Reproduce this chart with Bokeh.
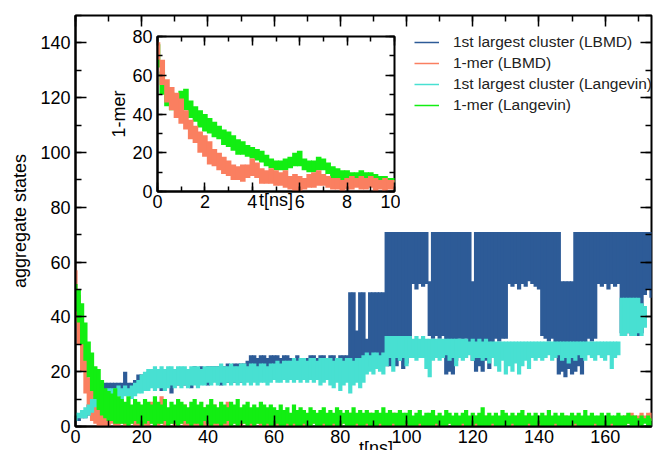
from bokeh.plotting import figure
from bokeh.models import (Range1d, LinearAxis, SingleIntervalTicker, Legend,
                          LegendItem, ColumnDataSource, CustomLabelingPolicy, Div)
from bokeh.layouts import column
from bokeh.embed import file_html
from bokeh.resources import INLINE

FONT = "Liberation Sans"
C_BLUE = "#2d5b97"
C_SALMON = "#fa7f60"
C_CYAN = "#48e0d2"
C_GREEN = "#12ee12"

# ---------------- main plot data (1 ns bins, low / high of the noisy trace) ----------------
lbmd_cluster_lo = [
    2, 2, 3, 3, 4, 6, 8, 12, 13, 13,
    12, 13, 13, 12, 13, 13, 13, 13, 12, 14,
    13, 15, 14, 15, 14, 15, 13, 15, 16, 12,
    16, 15, 16, 15, 16, 14, 16, 15, 16, 16,
    15, 16, 17, 16, 15, 17, 16, 17, 16, 17,
    16, 17, 17, 18, 19, 18, 19, 18, 19, 17,
    19, 18, 19, 19, 18, 19, 18, 19, 18, 19,
    18, 19, 18, 19, 18, 19, 18, 18, 17, 18,
    17, 18, 18, 20, 22, 24, 22, 21, 24, 22,
    23, 21, 22, 24, 22, 22, 23, 22, 24, 21,
    23, 28, 52, 50, 52, 51, 52, 33, 32, 33,
    32, 33, 19, 20, 19, 24, 32, 31, 32, 30,
    24, 20, 22, 20, 24, 21, 26, 32, 31, 32,
    32, 52, 51, 52, 50, 52, 51, 53, 52, 51,
    50, 33, 32, 31, 32, 28, 19, 20, 18, 21,
    19, 20, 22, 19, 30, 32, 31, 32, 52, 51,
    52, 50, 52, 51, 52, 34, 33, 34, 33, 34,
    33, 34, 48, 50, 47]
lbmd_cluster_hi = [
    4, 4, 4, 6, 8, 10, 13, 16, 16, 16,
    16, 16, 16, 16, 16, 20, 16, 16, 17, 19,
    19, 19, 20, 19, 20, 21, 21, 20, 21, 21,
    21, 20, 21, 21, 21, 21, 22, 21, 22, 21,
    22, 22, 22, 22, 22, 22, 23, 22, 23, 23,
    23, 23, 24, 26, 26, 25, 26, 26, 25, 26,
    26, 26, 25, 26, 26, 25, 24, 26, 25, 24,
    25, 26, 26, 25, 26, 26, 25, 26, 26, 25,
    26, 26, 26, 49, 49, 35, 49, 49, 32, 49,
    49, 49, 49, 49, 71, 71, 71, 71, 71, 71,
    71, 71, 71, 71, 71, 71, 71, 53, 71, 71,
    71, 71, 71, 71, 71, 71, 71, 71, 71, 71,
    53, 71, 71, 71, 71, 71, 71, 71, 71, 71,
    71, 71, 71, 71, 71, 71, 71, 71, 71, 71,
    71, 71, 71, 71, 71, 71, 71, 53, 53, 53,
    53, 71, 71, 71, 71, 71, 71, 71, 71, 71,
    71, 71, 71, 71, 71, 71, 71, 71, 71, 71,
    71, 71, 71, 71, 71]

lbmd_mer_lo = [
    38, 30, 20, 12, 6, 2, 1, 0, 0, 0,
    0, 1, 0, 0, 1, 0, 0, 1, 0, 0,
    1, 0, 0, 1, 0, 0, 1, 0, 0, 1,
    0, 0, 1, 0, 0, 1, 0, 0, 1, 0,
    0, 1, 0, 0, 1, 0, 0, 0, 1, 0,
    0, 1, 0, 0, 0, 1, 0, 0, 0, 1,
    0, 0, 0, 1, 0, 0, 0, 0, 1, 0,
    0, 0, 1, 0, 0, 0, 0, 1, 0, 0,
    0, 1, 0, 0, 0, 0, 1, 0, 0, 0,
    1, 0, 0, 0, 0, 1, 0, 0, 0, 0,
    0, 0, 1, 0, 0, 0, 0, 0, 1, 0,
    0, 0, 0, 1, 0, 0, 0, 0, 0, 1,
    0, 0, 0, 0, 1, 0, 0, 0, 0, 0,
    1, 0, 0, 0, 0, 0, 1, 0, 0, 0,
    0, 0, 1, 0, 0, 0, 0, 0, 1, 0,
    0, 0, 0, 0, 1, 0, 0, 0, 0, 0,
    1, 0, 0, 0, 0, 1, 0, 1, 1, 1,
    1, 1, 2, 1, 2]
lbmd_mer_hi = [
    57, 48, 38, 28, 18, 14, 10, 8, 9, 7,
    8, 6, 7, 5, 9, 6, 7, 5, 6, 8,
    6, 5, 7, 9, 6, 5, 11, 7, 6, 5,
    7, 6, 5, 8, 6, 7, 5, 6, 5, 7,
    6, 5, 8, 6, 5, 7, 9, 6, 5, 6,
    5, 7, 6, 4, 6, 5, 7, 5, 4, 6,
    4, 5, 3, 4, 5, 3, 4, 4, 5, 3,
    4, 3, 5, 4, 3, 4, 3, 5, 4, 3,
    4, 3, 4, 5, 3, 4, 3, 4, 3, 5,
    4, 3, 4, 3, 4, 3, 5, 4, 3, 4,
    3, 4, 3, 3, 4, 3, 4, 3, 3, 4,
    3, 3, 4, 3, 3, 4, 3, 3, 4, 3,
    3, 4, 3, 3, 4, 3, 3, 4, 3, 3,
    4, 3, 3, 4, 3, 3, 4, 3, 3, 4,
    3, 3, 4, 3, 3, 4, 3, 3, 4, 3,
    3, 4, 3, 3, 4, 3, 4, 3, 3, 4,
    3, 4, 3, 3, 4, 3, 4, 4, 5, 4,
    4, 5, 4, 5, 5]

lang_cluster_lo = [
    2, 3, 3, 3, 4, 5, 7, 8, 9, 10,
    10, 11, 10, 11, 10, 11, 11, 10, 11, 12,
    12, 13, 13, 14, 13, 14, 14, 13, 14, 15,
    14, 15, 14, 15, 14, 15, 15, 14, 15, 15,
    16, 15, 16, 15, 16, 15, 16, 15, 16, 15,
    16, 15, 16, 15, 16, 15, 16, 16, 15, 16,
    17, 16, 16, 17, 16, 17, 16, 17, 16, 17,
    16, 17, 16, 17, 15, 16, 17, 15, 14, 16,
    13, 15, 16, 12, 15, 16, 14, 16, 19, 20,
    19, 21, 20, 19, 22, 25, 20, 25, 24, 25,
    22, 25, 25, 24, 25, 25, 21, 18, 24, 25,
    24, 25, 26, 24, 25, 22, 25, 24, 25, 26,
    24, 25, 25, 24, 25, 23, 25, 22, 20, 24,
    19, 22, 20, 23, 19, 22, 24, 21, 25, 24,
    25, 24, 25, 26, 24, 25, 26, 24, 25, 23,
    25, 24, 26, 25, 24, 26, 25, 24, 26, 25,
    24, 26, 21, 25, 26, 33, 33, 34, 33, 33,
    34, 33, 36]
lang_cluster_hi = [
    5, 5, 6, 7, 8, 10, 11, 12, 13, 13,
    14, 14, 14, 15, 14, 15, 14, 15, 16, 17,
    19, 20, 21, 21, 22, 21, 22, 21, 22, 22,
    21, 22, 22, 22, 21, 22, 22, 22, 21, 22,
    22, 22, 22, 22, 23, 22, 22, 23, 22, 22,
    23, 23, 22, 23, 23, 22, 23, 23, 22, 23,
    23, 24, 23, 24, 24, 24, 25, 24, 25, 25,
    24, 25, 25, 24, 25, 25, 25, 25, 24, 25,
    25, 24, 25, 25, 24, 25, 25, 26, 27, 26,
    27, 27, 26, 27, 33, 33, 33, 33, 33, 33,
    33, 33, 32, 33, 32, 33, 32, 32, 32, 32,
    32, 32, 32, 32, 32, 32, 32, 32, 32, 31,
    32, 31, 32, 31, 32, 31, 31, 31, 31, 31,
    31, 31, 31, 31, 31, 31, 31, 31, 31, 31,
    31, 31, 31, 31, 31, 31, 31, 31, 31, 31,
    31, 31, 31, 31, 31, 31, 31, 31, 31, 31,
    31, 31, 31, 31, 31, 47, 47, 47, 47, 47,
    47, 45, 44]

lang_mer_lo = [
    42, 38, 30, 24, 18, 13, 10, 6, 4, 3,
    2, 2, 1, 1, 1, 1, 0, 1, 2, 1,
    0, 1, 2, 1, 0, 1, 1, 2, 0, 1,
    1, 0, 1, 2, 1, 0, 1, 1, 0, 2,
    1, 0, 1, 1, 0, 1, 2, 0, 1, 0,
    1, 1, 0, 1, 0, 1, 1, 0, 1, 0,
    0, 1, 0, 0, 1, 0, 1, 0, 0, 1,
    0, 0, 1, 0, 0, 1, 0, 0, 1, 0,
    0, 1, 0, 0, 0, 1, 0, 0, 1, 0,
    0, 0, 1, 0, 0, 0, 1, 0, 0, 0,
    1, 0, 0, 0, 1, 0, 0, 0, 0, 1,
    0, 0, 0, 1, 0, 0, 0, 1, 0, 0,
    0, 1, 0, 0, 0, 0, 1, 0, 0, 0,
    0, 0, 1, 0, 0, 0, 0, 1, 0, 0,
    1, 0, 0, 0, 0, 1, 0, 0, 0, 0,
    0, 1, 0, 0, 0, 0, 0, 1, 0, 0,
    0, 0, 1, 0, 0, 0, 0, 1, 0, 0,
    0, 0, 1, 0, 0]
lang_mer_hi = [
    52, 50, 45, 38, 31, 27, 22, 21, 17, 14,
    13, 12, 14, 11, 10, 9, 11, 8, 10, 9,
    8, 10, 9, 8, 11, 9, 8, 10, 7, 9,
    8, 10, 9, 8, 7, 9, 10, 8, 9, 7,
    8, 10, 8, 7, 9, 8, 7, 9, 8, 10,
    7, 8, 9, 7, 8, 7, 9, 8, 7, 8,
    7, 6, 8, 6, 7, 5, 8, 6, 7, 6,
    5, 7, 6, 5, 6, 7, 5, 6, 5, 7,
    6, 5, 6, 5, 7, 5, 6, 5, 6, 5,
    5, 6, 5, 7, 5, 6, 5, 5, 6, 5,
    5, 6, 4, 5, 6, 4, 5, 5, 6, 4,
    5, 4, 6, 5, 4, 5, 4, 5, 6, 4,
    5, 4, 5, 7, 4, 5, 4, 5, 4, 6,
    5, 4, 5, 4, 5, 6, 4, 5, 4, 5,
    4, 5, 4, 6, 4, 5, 4, 5, 4, 4,
    5, 4, 5, 4, 6, 4, 5, 4, 4, 5,
    4, 5, 4, 4, 5, 4, 4, 5, 4, 4,
    3, 4, 3, 4, 3]

# ---------------- inset data (0.2 ns bins) ----------------
inset_lbmd_lo = [
    68, 55, 46, 42, 38, 35, 32, 27, 25, 20,
    18, 14, 13, 11, 9, 8, 6, 6, 5, 7,
    8, 7, 4, 4, 4, 3, 3, 2, 1, 0,
    0, 1, 2, 2, 3, 3, 2, 1, 1, 0,
    1, 1, 2, 1, 1, 2, 0, 1, 0, 1,
    1]
inset_lbmd_hi = [
    77, 68, 58, 54, 51, 48, 42, 37, 34, 31,
    29, 26, 22, 20, 18, 16, 14, 13, 14, 14,
    17, 15, 12, 11, 12, 11, 10, 11, 8, 9,
    8, 7, 9, 10, 11, 9, 8, 7, 7, 6,
    7, 8, 7, 8, 7, 8, 7, 6, 7, 6,
    6]
inset_lang_lo = [
    64, 50, 44, 42, 43, 44, 42, 38, 36, 33,
    31, 30, 28, 27, 24, 23, 21, 19, 19, 18,
    17, 16, 15, 13, 12, 11, 11, 11, 12, 13,
    13, 11, 10, 10, 11, 11, 9, 7, 7, 6,
    6, 6, 5, 5, 5, 5, 3, 3, 2, 2,
    2]
inset_lang_hi = [
    76, 62, 53, 51, 50, 52, 53, 47, 44, 42,
    40, 38, 36, 34, 32, 31, 29, 27, 26, 24,
    23, 22, 21, 19, 17, 16, 16, 17, 18, 20,
    21, 17, 16, 16, 18, 17, 15, 13, 12, 11,
    11, 10, 10, 11, 10, 10, 9, 8, 8, 7,
    7]

legend_labels = ["1st largest cluster (LBMD)", "1-mer (LBMD)",
                 "1st largest cluster (Langevin)", "1-mer (Langevin)"]

t_main = list(range(len(lbmd_cluster_hi)))
t_lang_cluster = list(range(len(lang_cluster_hi)))
t_inset = [round(0.2 * i, 1) for i in range(len(inset_lbmd_hi))]


def src(t, lo, hi):
    return ColumnDataSource(dict(t=t, lo=lo, hi=hi))


def style_axis(ax, tin, mtin, lw=2, size="18px", standoff=4):
    ax.major_tick_in = tin
    ax.major_tick_out = 0
    ax.minor_tick_in = mtin
    ax.minor_tick_out = 0
    ax.axis_line_width = lw
    ax.major_tick_line_width = 1.5
    ax.minor_tick_line_width = 1.5
    ax.major_label_text_font = FONT
    ax.major_label_text_font_size = size
    ax.major_label_text_color = "black"
    ax.major_label_standoff = standoff
    ax.axis_label_text_font = FONT
    ax.axis_label_text_font_size = size
    ax.axis_label_text_font_style = "normal"
    ax.axis_label_text_color = "black"


HIDE_LABELS = CustomLabelingPolicy(code="""
for (const i of Array.from(indices)) { indices.unset(i) }
return indices
""")


def blank_axis(ticker, tin, mtin):
    ax = LinearAxis(ticker=ticker)
    ax.major_tick_in = tin
    ax.major_tick_out = 0
    ax.minor_tick_in = mtin
    ax.minor_tick_out = 0
    ax.major_tick_line_width = 1.5
    ax.minor_tick_line_width = 1.5
    ax.axis_line_color = None
    ax.major_label_text_font_size = "1px"
    ax.major_label_standoff = 0
    ax.major_label_policy = HIDE_LABELS
    return ax


# ---------------- main figure ----------------
p = figure(width=657, height=450, output_backend="svg", toolbar_location=None,
           x_range=Range1d(0, 174), y_range=Range1d(0, 150),
           min_border_left=74, min_border_right=3, min_border_top=15,
           min_border_bottom=24)
p.grid.visible = False
p.outline_line_color = "black"
p.outline_line_width = 2
p.background_fill_color = "white"

p.xaxis.ticker = SingleIntervalTicker(interval=20, num_minor_ticks=2)
p.yaxis.ticker = SingleIntervalTicker(interval=20, num_minor_ticks=2)
style_axis(p.xaxis[0], 11, 6, standoff=3)
style_axis(p.yaxis[0], 11, 6, standoff=5)
p.yaxis.axis_label = "aggregate states"
p.yaxis.axis_label_standoff = 7
p.add_layout(blank_axis(SingleIntervalTicker(interval=20, num_minor_ticks=2), 11, 6), "above")
p.add_layout(blank_axis(SingleIntervalTicker(interval=20, num_minor_ticks=2), 11, 6), "right")

W_MAIN = 4.2
p.segment(x0="t", y0="lo", x1="t", y1="hi", source=src(t_main, lbmd_cluster_lo, lbmd_cluster_hi),
          line_color=C_BLUE, line_width=W_MAIN)
p.segment(x0="t", y0="lo", x1="t", y1="hi", source=src(t_main, lbmd_mer_lo, lbmd_mer_hi),
          line_color=C_SALMON, line_width=W_MAIN)
p.segment(x0="t", y0="lo", x1="t", y1="hi",
          source=src(t_lang_cluster, lang_cluster_lo, lang_cluster_hi),
          line_color=C_CYAN, line_width=W_MAIN)
p.segment(x0="t", y0="lo", x1="t", y1="hi", source=src(t_main, lang_mer_lo, lang_mer_hi),
          line_color=C_GREEN, line_width=W_MAIN)

# thin line renderers used only for the legend glyphs (hidden on the plot)
series_for_legend = [(t_main, lbmd_cluster_hi), (t_main, lbmd_mer_hi),
                     (t_lang_cluster, lang_cluster_hi), (t_main, lang_mer_hi)]
items = []
for lab, col, (tt, yy) in zip(legend_labels, [C_BLUE, C_SALMON, C_CYAN, C_GREEN], series_for_legend):
    r = p.line(x=tt, y=yy, line_color=col, line_width=1.5, visible=False)
    items.append(LegendItem(label=lab, renderers=[r]))
legend = Legend(items=items, location=(339, 311), padding=0, margin=0, spacing=1,
                glyph_width=25, glyph_height=20, label_height=20, label_standoff=14,
                label_text_font=FONT, label_text_font_size="15.5px",
                label_text_color="#222222", border_line_color=None,
                background_fill_alpha=0)
p.add_layout(legend)

# ---------------- inset figure ----------------
q = figure(width=318, height=195, output_backend="svg", toolbar_location=None,
           x_range=Range1d(0, 10), y_range=Range1d(0, 80),
           min_border_left=75, min_border_right=6, min_border_top=14,
           min_border_bottom=26)
q.grid.visible = False
q.outline_line_color = "black"
q.outline_line_width = 2
q.background_fill_color = "white"
q.border_fill_alpha = 0
q.xaxis.ticker = SingleIntervalTicker(interval=2, num_minor_ticks=2)
q.yaxis.ticker = SingleIntervalTicker(interval=20, num_minor_ticks=2)
style_axis(q.xaxis[0], 9, 5, standoff=3)
style_axis(q.yaxis[0], 9, 5, standoff=5)
q.xaxis.axis_label = "t[ns]"
q.xaxis.axis_label_standoff = -21
q.yaxis.axis_label = "1-mer"
q.yaxis.axis_label_standoff = 0
q.add_layout(blank_axis(SingleIntervalTicker(interval=2, num_minor_ticks=2), 9, 5), "above")
q.add_layout(blank_axis(SingleIntervalTicker(interval=20, num_minor_ticks=2), 9, 5), "right")

W_IN = 5.6
q.segment(x0="t", y0="lo", x1="t", y1="hi", source=src(t_inset, inset_lang_lo, inset_lang_hi),
          line_color=C_GREEN, line_width=W_IN)
q.segment(x0="t", y0="lo", x1="t", y1="hi", source=src(t_inset, inset_lbmd_lo, inset_lbmd_hi),
          line_color=C_SALMON, line_width=W_IN)

q.styles = {"position": "absolute", "left": "82px", "top": "22px"}

# main x-axis title, sitting below the tick labels and cut by the page edge as in the original
xtitle = Div(text="t[ns]", width=60, height=17,
             styles={"position": "absolute", "left": "341px", "top": "433px",
                     "overflow": "hidden", "font-family": FONT, "font-size": "18px",
                     "text-align": "center", "color": "black", "line-height": "normal"})

layout = column(p, q, xtitle, spacing=0)
open("out.html", "w").write(file_html(layout, INLINE))
